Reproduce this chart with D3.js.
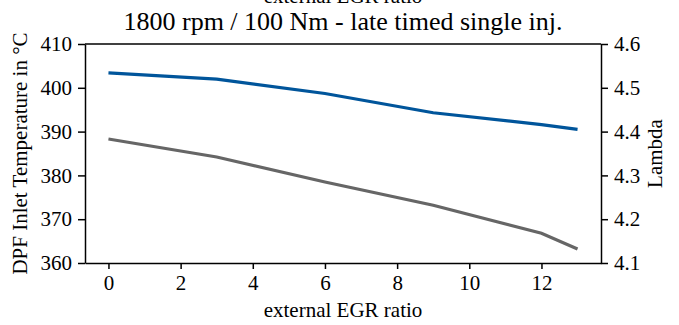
<!DOCTYPE html>
<html>
<head>
<meta charset="utf-8">
<script src="https://cdn.jsdelivr.net/npm/d3@7"></script>
<style>
  html, body { margin: 0; padding: 0; background: #fff; }
  svg { display: block; font-family: "Liberation Serif", "DejaVu Serif", serif; }
</style>
</head>
<body>
<div id="chart"></div>
<script>
// Données
const egr = [0, 3, 6, 9, 12, 13];
const dpfTemp = [388.3, 384.2, 378.5, 373.2, 366.8, 363.2];   // axe gauche (gris)
const lambda = [4.534, 4.520, 4.487, 4.443, 4.416, 4.405];     // axe droit (bleu)
const xTicks = [0, 2, 4, 6, 8, 10, 12];
const leftTicks = [360, 370, 380, 390, 400, 410];
const rightTicks = [4.1, 4.2, 4.3, 4.4, 4.5, 4.6];

const W = 679, H = 325;
const margin = { top: 44, right: 78, bottom: 62, left: 85 };

const svg = d3.select("#chart").append("svg")
  .attr("width", W).attr("height", H);

// Échelles (marges de 5 % comme matplotlib)
const x = d3.scaleLinear().domain([-0.65, 13.65]).range([margin.left, W - margin.right]);
const yL = d3.scaleLinear().domain([360, 410]).range([H - margin.bottom, margin.top]);
const yR = d3.scaleLinear().domain([4.1, 4.6]).range([H - margin.bottom, margin.top]);

const fontSize = 21;

// Axes
const styleAxis = g => {
  g.selectAll(".domain").attr("stroke", "#000").attr("stroke-width", 1.5);
  g.selectAll(".tick line").attr("stroke", "#000").attr("stroke-width", 1.5);
  g.selectAll(".tick text").attr("fill", "#000")
    .style("font-family", "Liberation Serif, serif").style("font-size", fontSize + "px");
};

svg.append("g")
  .attr("transform", `translate(0,${H - margin.bottom})`)
  .call(d3.axisBottom(x).tickValues(xTicks).tickSize(6).tickPadding(6).tickSizeOuter(0))
  .call(styleAxis);

svg.append("g")
  .attr("transform", `translate(${margin.left},0)`)
  .call(d3.axisLeft(yL).tickValues(leftTicks).tickSize(7).tickPadding(6).tickSizeOuter(0))
  .call(styleAxis);

svg.append("g")
  .attr("transform", `translate(${W - margin.right},0)`)
  .call(d3.axisRight(yR).tickValues(rightTicks).tickFormat(d3.format(".1f")).tickSize(7).tickPadding(6).tickSizeOuter(0))
  .call(styleAxis);

// Bord supérieur
svg.append("line")
  .attr("x1", margin.left).attr("x2", W - margin.right)
  .attr("y1", margin.top).attr("y2", margin.top)
  .attr("stroke", "#000").attr("stroke-width", 1.5);

// Courbes
const lineL = d3.line().x((d, i) => x(egr[i])).y(d => yL(d));
const lineR = d3.line().x((d, i) => x(egr[i])).y(d => yR(d));

svg.append("path").datum(dpfTemp)
  .attr("d", lineL).attr("fill", "none")
  .attr("stroke", "#666666").attr("stroke-width", 3.2);

svg.append("path").datum(lambda)
  .attr("d", lineR).attr("fill", "none")
  .attr("stroke", "#00559b").attr("stroke-width", 3.2);

// Textes
const cx = (margin.left + W - margin.right) / 2;

svg.append("text") // libellé coupé du graphique au-dessus (comme dans la source)
  .attr("x", cx).attr("y", 3)
  .attr("text-anchor", "middle").attr("font-size", fontSize)
  .text("external EGR ratio");

svg.append("text")
  .attr("x", cx).attr("y", 30)
  .attr("text-anchor", "middle").attr("font-size", 26)
  .text("1800 rpm / 100 Nm - late timed single inj.");

svg.append("text")
  .attr("x", cx).attr("y", 317)
  .attr("text-anchor", "middle").attr("font-size", fontSize)
  .text("external EGR ratio");

svg.append("text")
  .attr("transform", `translate(27,${(margin.top + H - margin.bottom) / 2}) rotate(-90)`)
  .attr("text-anchor", "middle").attr("font-size", fontSize)
  .text("DPF Inlet Temperature in °C");

svg.append("text")
  .attr("transform", `translate(662,${(margin.top + H - margin.bottom) / 2}) rotate(-90)`)
  .attr("text-anchor", "middle").attr("font-size", fontSize)
  .text("Lambda");
</script>
</body>
</html>
